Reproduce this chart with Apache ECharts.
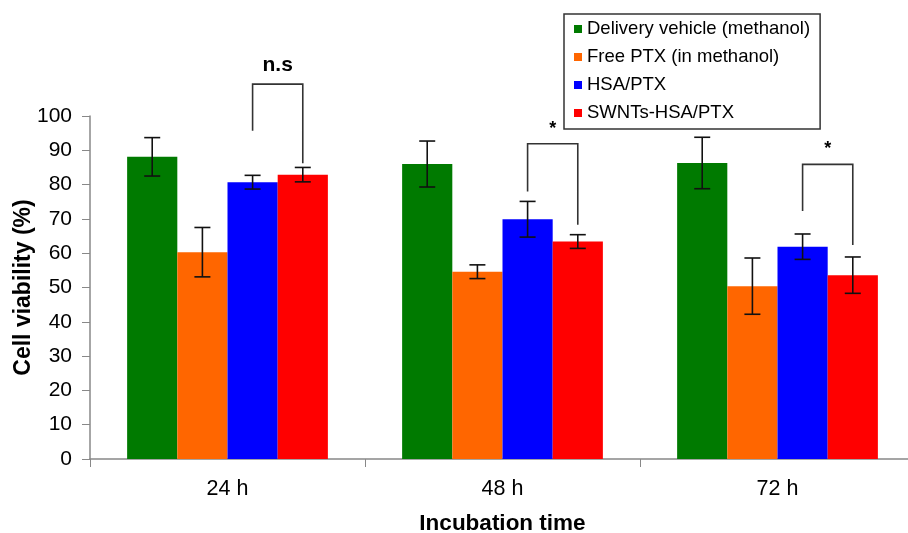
<!DOCTYPE html>
<html>
<head>
<meta charset="utf-8">
<script src="https://cdn.jsdelivr.net/npm/echarts@6/dist/echarts.min.js"></script>
<style>html,body{margin:0;padding:0;background:#fff;}#c{width:908px;height:533px;}</style>
</head>
<body>
<div id="c"></div>
<script>
const categories = ['24 h', '48 h', '72 h'];
const seriesNames = ['Delivery vehicle (methanol)', 'Free PTX (in methanol)', 'HSA/PTX', 'SWNTs-HSA/PTX'];
const deliveryVehicle = [88.1, 86.0, 86.3];
const freePTX = [60.3, 54.6, 50.4];
const hsaPTX = [80.7, 69.9, 61.9];
const swntsHsaPTX = [82.9, 63.4, 53.6];
const deliveryVehicleErr = [5.6, 6.7, 7.5];
const freePTXErr = [7.2, 2.0, 8.2];
const hsaPTXErr = [2.0, 5.2, 3.7];
const swntsHsaPTXErr = [2.1, 2.0, 5.3];
// significance brackets: top, left leg bottom, right leg bottom (per category)
const bracketTops = [109.3, 91.9, 85.9];
const bracketLeftBottoms = [95.7, 78.0, 72.3];
const bracketRightBottoms = [86.2, 68.3, 62.4];
const bracketLabels = ['n.s', '*', '*'];
const yTicks = [0, 100, 10]; // min, max, interval

const colors = ['#007a00', '#ff6600', '#0000ff', '#ff0000'];
const values = [deliveryVehicle, freePTX, hsaPTX, swntsHsaPTX];
const errs = [deliveryVehicleErr, freePTXErr, hsaPTXErr, swntsHsaPTXErr];
const CAT_GAP = 0.27;
const FONT = "'Liberation Sans', Arial, sans-serif";

function barX(api, cat, si) {
  const c = api.coord([cat, 0]);
  const band = api.size([1, 0])[0];
  const groupW = band * (1 - CAT_GAP);
  const bw = groupW / 4;
  return c[0] - groupW / 2 + bw * (si + 0.5);
}

const errData = [];
values.forEach((arr, si) => arr.forEach((v, ci) => errData.push([ci, si, v, errs[si][ci]])));
const bracketData = categories.map((c, i) => [i, bracketTops[i], bracketLeftBottoms[i], bracketRightBottoms[i]]);

const chart = echarts.init(document.getElementById('c'));
chart.setOption({
  animation: false,
  backgroundColor: '#fff',
  textStyle: { fontFamily: FONT },
  grid: { left: 90, top: 116, width: 825, height: 343, outerBoundsMode: 'none', containLabel: false },
  legend: {
    data: seriesNames,
    orient: 'vertical',
    left: 564, top: 14,
    itemWidth: 8, itemHeight: 8, itemGap: 8,
    icon: 'rect',
    selectedMode: false,
    padding: [5, 10, 6, 10],
    borderColor: '#333', borderWidth: 1.5,
    textStyle: { fontSize: 18.5, lineHeight: 20, color: '#000', fontFamily: FONT }
  },
  xAxis: {
    type: 'category',
    data: categories,
    name: 'Incubation time',
    nameLocation: 'middle',
    nameGap: 53,
    nameTextStyle: { fontSize: 22.5, fontWeight: 'bold', color: '#000', fontFamily: FONT },
    axisLine: { lineStyle: { color: '#888', width: 1.5 } },
    axisTick: { show: true, length: 8, lineStyle: { color: '#888' } },
    axisLabel: { fontSize: 21.5, color: '#000', margin: 19, fontFamily: FONT }
  },
  yAxis: {
    type: 'value',
    min: yTicks[0], max: yTicks[1], interval: yTicks[2],
    name: 'Cell viability (%)',
    nameLocation: 'middle',
    nameGap: 55,
    nameMoveOverlap: false,
    nameTextStyle: { fontSize: 23, fontWeight: 'bold', color: '#000', fontFamily: FONT },
    splitLine: { show: false },
    axisLine: { show: true, lineStyle: { color: '#888', width: 1.5 } },
    axisTick: { show: true, length: 8, lineStyle: { color: '#888' } },
    axisLabel: { fontSize: 21, color: '#000', margin: 18, fontFamily: FONT }
  },
  series: [
    ...seriesNames.map((n, i) => ({
      name: n, type: 'bar', data: values[i],
      barGap: '0%', barCategoryGap: (CAT_GAP * 100) + '%',
      itemStyle: { color: colors[i] }
    })),
    {
      type: 'custom', name: 'err', data: errData, z: 10,
      encode: { x: 0, y: 2 },
      renderItem: function (params, api) {
        const cat = api.value(0), si = api.value(1), v = api.value(2), e = api.value(3);
        const x = barX(api, cat, si);
        const t = api.coord([cat, v + e])[1];
        const b = api.coord([cat, v - e])[1];
        const cw = 8;
        const st = { stroke: '#111', lineWidth: 1.6 };
        return { type: 'group', children: [
          { type: 'line', shape: { x1: x, y1: t, x2: x, y2: b }, style: st },
          { type: 'line', shape: { x1: x - cw, y1: t, x2: x + cw, y2: t }, style: st },
          { type: 'line', shape: { x1: x - cw, y1: b, x2: x + cw, y2: b }, style: st }
        ]};
      }
    },
    {
      type: 'custom', name: 'brackets', data: bracketData, z: 10, clip: false,
      encode: { x: 0, y: 1 },
      renderItem: function (params, api) {
        const cat = api.value(0);
        const xl = barX(api, cat, 2), xr = barX(api, cat, 3);
        const yt = api.coord([cat, api.value(1)])[1];
        const yl = api.coord([cat, api.value(2)])[1];
        const yr = api.coord([cat, api.value(3)])[1];
        const lab = bracketLabels[params.dataIndex];
        const st = { stroke: '#333', lineWidth: 1.6, fill: null };
        const isStar = lab === '*';
        return { type: 'group', children: [
          { type: 'polyline', shape: { points: [[xl, yl], [xl, yt], [xr, yt], [xr, yr]] }, style: st },
          { type: 'text', x: (xl + xr) / 2, y: yt - (isStar ? 6 : 8),
            style: { text: lab, fill: '#000', font: 'bold ' + (isStar ? 18 : 21) + "px 'Liberation Sans', Arial, sans-serif",
              align: 'center', verticalAlign: 'bottom' } }
        ]};
      }
    }
  ]
});
</script>
</body>
</html>
